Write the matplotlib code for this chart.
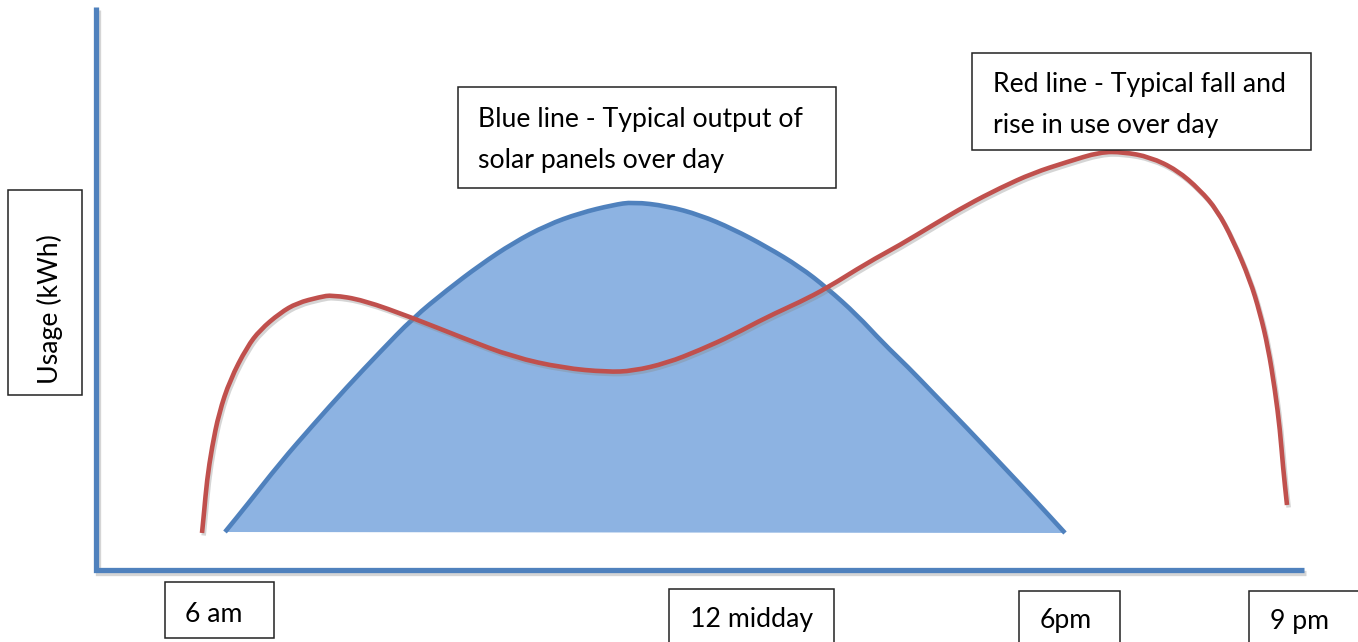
import matplotlib
matplotlib.use("Agg")
import matplotlib.pyplot as plt
from matplotlib.patches import Rectangle, PathPatch
from matplotlib.path import Path
import matplotlib.patheffects as pe

solar_x = [225, 247, 280, 313, 347, 380, 413, 447, 480, 513, 547, 580, 613, 633,
           667, 700, 733, 767, 800, 827, 857, 883, 908, 933, 967, 1000, 1033, 1065]
solar_y = [532, 505, 463, 425, 387, 352, 318, 290, 265, 243, 225, 213, 205, 202,
           206, 215, 229, 247, 267, 288, 315, 343, 367, 393, 428, 463, 498, 533]

use_x = [202, 204, 207, 212, 219, 230, 247, 260, 280, 297, 320, 332, 363, 413, 463,
         513, 563, 607, 633, 667, 700, 733, 767, 800, 827, 867, 900, 933, 967, 1000,
         1033, 1067, 1100, 1123, 1150, 1177, 1200, 1217, 1233, 1250, 1260, 1268,
         1275, 1280, 1283, 1287]
use_y = [533, 513, 480, 447, 413, 380, 347, 330, 313, 303, 297, 295, 300, 318, 338,
         357, 368, 372, 371, 363, 350, 335, 317, 302, 288, 263, 245, 225, 205, 188,
         173, 162, 152, 152, 157, 170, 190, 210, 240, 280, 313, 347,
         390, 430, 467, 505]

y_label = "Usage (kWh)"
time_labels = ["6 am", "12 midday", "6pm", "9 pm"]
solar_note = ["Blue line - Typical output of", "solar panels over day"]
use_note = ["Red line - Typical fall and", "rise in use over day"]

AXIS_BLUE = "#4F81BD"
FILL_BLUE = "#8DB3E2"
RED = "#C0504D"
FONT = "Lato"
FS = 19.2

W, H = 1358, 642
fig = plt.figure(figsize=(W / 100, H / 100), dpi=100)
ax = fig.add_axes([0, 0, 1, 1])
ax.set_xlim(0, W)
ax.set_ylim(H, 0)
ax.axis("off")


def smooth_path(xs, ys, close=False):
    """Quadratic-Bezier path using the read points as control points."""
    pts = list(zip(xs, ys))
    verts = [pts[0]]
    codes = [Path.MOVETO]
    mid = lambda a, b: ((a[0] + b[0]) / 2, (a[1] + b[1]) / 2)
    verts.append(mid(pts[0], pts[1]))
    codes.append(Path.LINETO)
    for i in range(1, len(pts) - 1):
        verts += [pts[i], mid(pts[i], pts[i + 1])]
        codes += [Path.CURVE3, Path.CURVE3]
    verts.append(pts[-1])
    codes.append(Path.LINETO)
    if close:
        verts.append(pts[0])
        codes.append(Path.CLOSEPOLY)
    return Path(verts, codes)


shadow = [pe.SimplePatchShadow(offset=(1.2, -1.8), shadow_rgbFace="#888888", alpha=0.0),
          pe.Normal()]
line_shadow = [pe.SimpleLineShadow(offset=(1.2, -1.8), shadow_color="#888888", alpha=0.35),
               pe.Normal()]

# axes lines
ax.plot([96, 96, 1304], [7, 570, 570], color=AXIS_BLUE, lw=3.8,
        solid_joinstyle="miter", solid_capstyle="butt", path_effects=line_shadow, zorder=3)

# solar output (filled arch)
ax.add_patch(PathPatch(smooth_path(solar_x, solar_y, close=True), facecolor=FILL_BLUE,
                       edgecolor="none", zorder=1))
ax.add_patch(PathPatch(smooth_path(solar_x, solar_y), facecolor="none",
                       edgecolor=AXIS_BLUE, lw=3.3, capstyle="butt", zorder=2))

# usage curve
ax.add_patch(PathPatch(smooth_path(use_x, use_y), facecolor="none", edgecolor=RED,
                       lw=3.3, capstyle="butt", path_effects=line_shadow, zorder=4))


def box(x0, y0, x1, y1):
    ax.add_patch(Rectangle((x0, y0), x1 - x0, y1 - y0, facecolor="white",
                           edgecolor="#222222", lw=1.1, zorder=5, clip_on=True))


# y label box
box(8, 190, 82, 395)
ax.text(50, 384, y_label, rotation=90, ha="center", va="bottom", fontsize=FS,
        family=FONT, color="black", zorder=6)

# time label boxes
label_boxes = [(165, 582, 274, 638), (669, 589, 834, 660), (1019, 591, 1120, 660),
               (1249, 591, 1380, 660)]
label_left = [185, 690, 1040, 1270]
label_base = [622, 627, 628, 629]
for (x0, y0, x1, y1), t, lx, by in zip(label_boxes, time_labels, label_left, label_base):
    box(x0, y0, x1, y1)
    ax.text(lx, by, t, ha="left", va="baseline", fontsize=FS, family=FONT,
            color="black", zorder=6)

# note boxes
box(458, 87, 836, 188)
for i, line in enumerate(solar_note):
    ax.text(478, 127 + 41 * i, line, ha="left", va="baseline", fontsize=FS,
            family=FONT, color="black", zorder=6)

box(972, 53, 1311, 150)
for i, line in enumerate(use_note):
    ax.text(993, 92 + 41 * i, line, ha="left", va="baseline", fontsize=FS,
            family=FONT, color="black", zorder=6)

fig.savefig("out.png", dpi=100, facecolor="white")
